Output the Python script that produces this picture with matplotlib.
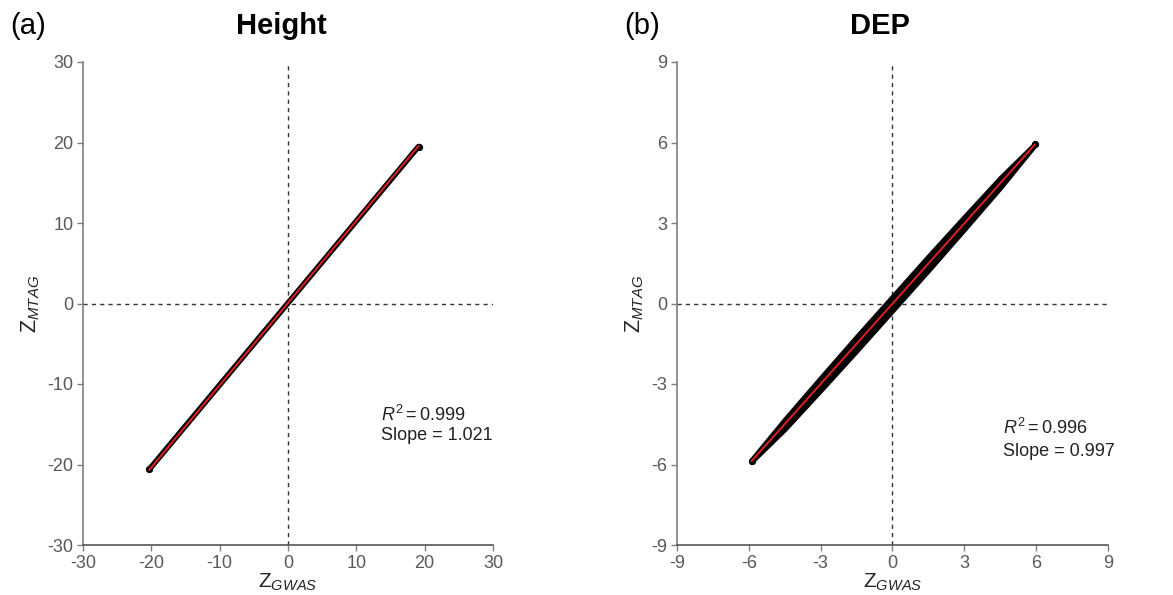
import matplotlib
matplotlib.use("Agg")
import matplotlib.pyplot as plt
import numpy as np

plt.rcParams['font.family'] = ['Liberation Sans', 'DejaVu Sans']
plt.rcParams['mathtext.fontset'] = 'custom'
plt.rcParams['mathtext.rm'] = 'Liberation Sans'
plt.rcParams['mathtext.it'] = 'Liberation Sans:italic'
plt.rcParams['mathtext.bf'] = 'Liberation Sans:bold'
plt.rcParams['axes.unicode_minus'] = False

# ---- data ----
# Height panel: extremes of the point cloud and regression
height_x_ends = [-20.3, 19.1]
height_y_ends = [-20.6, 19.5]
height_slope = 1.021
height_r2 = 0.999
height_ticks = [-30, -20, -10, 0, 10, 20, 30]

# DEP panel: envelope of the dense point cloud
dep_env_x = [-5.9, -4.5, -3.0, -1.5, 0.0, 1.5, 3.0, 4.5, 5.95]
dep_env_upper = [-5.82, -4.3, -2.75, -1.22, 0.28, 1.78, 3.25, 4.7, 5.97]
dep_env_lower = [-5.92, -4.7, -3.25, -1.78, -0.28, 1.22, 2.75, 4.3, 5.89]
dep_x_ends = [-5.88, 5.95]
dep_y_ends = [-5.87, 5.93]
dep_slope = 0.997
dep_r2 = 0.996
dep_ticks = [-9, -6, -3, 0, 3, 6, 9]

titles = ["Height", "DEP"]
panel_tags = ["(a)", "(b)"]

RED = '#e02020'
GRAY_TXT = '#595959'
GRAY_AX = '#7f7f7f'

W, H = 1173, 595
fig = plt.figure(figsize=(W / 100, H / 100), dpi=100)
ax1 = fig.add_axes([83 / W, 50 / H, 410 / W, 483 / H])
ax2 = fig.add_axes([677 / W, 50 / H, 431 / W, 483 / H])


def style(ax, ticks):
    lim = (ticks[0], ticks[-1])
    ax.set_xlim(lim)
    ax.set_ylim(lim)
    ax.set_xticks(ticks)
    ax.set_yticks(ticks)
    for s in ['top', 'right']:
        ax.spines[s].set_visible(False)
    ax.spines['left'].set_color(GRAY_AX)
    ax.spines['bottom'].set_color('#555555')
    ax.spines['left'].set_linewidth(1.2)
    ax.spines['bottom'].set_linewidth(1.2)
    ax.tick_params(direction='out', length=4, width=1, colors=GRAY_AX,
                   labelcolor=GRAY_TXT, labelsize=13, pad=3)
    ax.axhline(0, color='#333333', ls=(0, (3, 3)), lw=1, zorder=1)
    ax.axvline(0, color='#333333', ls=(0, (3, 3)), lw=1, zorder=1)
    ax.set_xlabel(r'$\mathrm{Z}_{\mathit{GWAS}}$', fontsize=15, labelpad=0, color='#222222')
    ax.set_ylabel(r'$\mathrm{Z}_{\mathit{MTAG}}$', fontsize=15.5, labelpad=4, color='#222222')


style(ax1, height_ticks)
style(ax2, dep_ticks)

# Height panel
ax1.plot(height_x_ends, height_y_ends, color='black', lw=4, solid_capstyle='round', zorder=2)
ax1.scatter(height_x_ends, height_y_ends, color='black', s=18, zorder=3)
hx = np.array(height_x_ends)
hint = np.mean(height_y_ends) - height_slope * np.mean(hx)
ax1.plot(hx, hint + height_slope * hx, color=RED, lw=1.4, zorder=4)
ax1.text(13.6, -13.8, r'$\mathit{R}^2 = %.3f$' % height_r2, fontsize=13, color='#222222', va='center')
ax1.text(13.6, -16.4, 'Slope = %.3f' % height_slope, fontsize=13, color='#222222', va='center')

# DEP panel
ax2.fill_between(dep_env_x, dep_env_lower, dep_env_upper, color='black', lw=3, edgecolor='black', zorder=2)
ax2.scatter(dep_x_ends, dep_y_ends, color='black', s=18, zorder=3)
dx = np.array(dep_x_ends)
dint = np.mean(dep_y_ends) - dep_slope * np.mean(dx)
ax2.plot(dx, dint + dep_slope * dx, color=RED, lw=1.4, zorder=4)
ax2.text(4.6, -4.63, r'$\mathit{R}^2 = %.3f$' % dep_r2, fontsize=13, color='#222222', va='center')
ax2.text(4.6, -5.52, 'Slope = %.3f' % dep_slope, fontsize=13, color='#222222', va='center')

# titles and tags
fig.text(281 / W, 1 - 26 / H, titles[0], fontsize=21, fontweight='bold', ha='center', va='center')
fig.text(880 / W, 1 - 26 / H, titles[1], fontsize=21, fontweight='bold', ha='center', va='center')
fig.text(10 / W, 1 - 26 / H, panel_tags[0], fontsize=21, ha='left', va='center')
fig.text(624 / W, 1 - 26 / H, panel_tags[1], fontsize=21, ha='left', va='center')

fig.savefig('out.png', dpi=100, facecolor='white')
